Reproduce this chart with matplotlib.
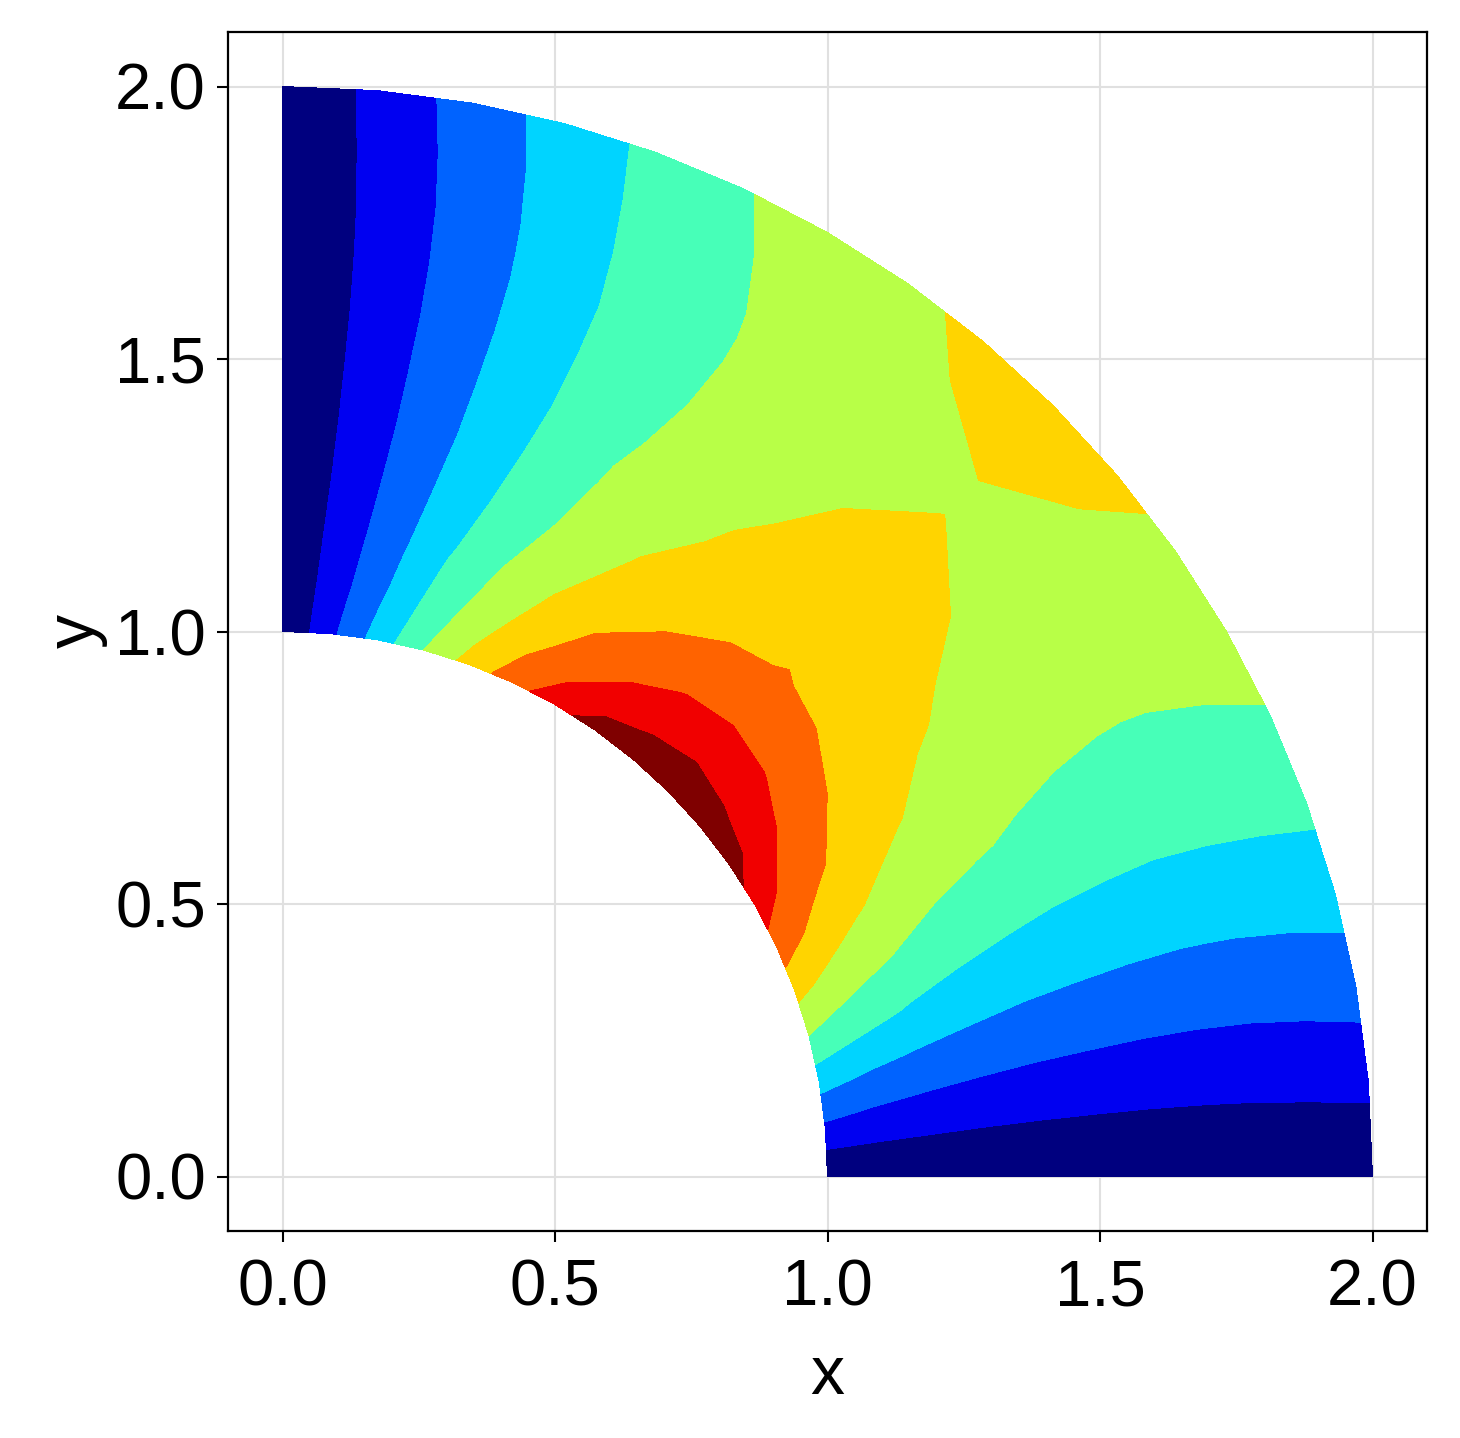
import numpy as np
import matplotlib
matplotlib.use("Agg")
import matplotlib.pyplot as plt

plt.rcParams['font.family'] = ['Liberation Sans', 'DejaVu Sans']

# Field sampled on a polar grid (annulus 1 <= r <= 2, 0..90 degrees), values in band units 0..10
radii = [1.0, 1.05, 1.1, 1.15, 1.2, 1.3, 1.4, 1.5, 1.6, 1.7, 1.75, 1.8, 1.9, 2.0]
angles_deg = [0, 5, 10, 15, 20, 25, 30, 35, 40, 45, 50, 55, 60, 65, 70, 75, 80, 85, 90]

row_r100 = [0, 1.754, 3.41, 5.0, 6.38, 7.61, 8.6, 9.5, 9.75, 10.0, 9.75, 9.5, 8.6, 7.61, 6.38, 5.0, 3.41, 1.754, 0]
row_r105 = [0, 1.61, 3.14, 4.64, 5.90, 7.05, 7.96, 8.68, 9.105, 9.3, 9.105, 8.68, 7.96, 7.05, 5.90, 4.64, 3.14, 1.61, 0]
row_r110 = [0, 1.49, 2.91, 4.35, 5.52, 6.57, 7.43, 8.07, 8.38, 8.68, 8.38, 8.07, 7.43, 6.57, 5.52, 4.35, 2.91, 1.49, 0]
row_r115 = [0, 1.41, 2.76, 4.10, 5.22, 6.17, 7.01, 7.60, 8.05, 8.16, 8.05, 7.60, 7.01, 6.17, 5.22, 4.10, 2.76, 1.41, 0]
row_r120 = [0, 1.34, 2.625, 3.875, 4.96, 5.86, 6.61, 7.14, 7.45, 7.75, 7.45, 7.14, 6.61, 5.86, 4.96, 3.875, 2.625, 1.34, 0]
row_r130 = [0, 1.235, 2.44, 3.57, 4.55, 5.36, 6.05, 6.46, 6.876, 7.04, 6.876, 6.46, 6.05, 5.36, 4.55, 3.57, 2.44, 1.235, 0]
row_r140 = [0, 1.174, 2.31, 3.36, 4.30, 5.08, 5.655, 6.128, 6.45, 6.77, 6.45, 6.128, 5.655, 5.08, 4.30, 3.36, 2.31, 1.174, 0]
row_r150 = [0, 1.139, 2.24, 3.25, 4.12, 4.87, 5.387, 5.858, 6.214, 6.52, 6.214, 5.858, 5.387, 4.87, 4.12, 3.25, 2.24, 1.139, 0]
row_r160 = [0, 1.12, 2.19, 3.175, 4.04, 4.73, 5.23, 5.615, 6.0, 6.28, 6.0, 5.615, 5.23, 4.73, 4.04, 3.175, 2.19, 1.12, 0]
row_r170 = [0, 1.124, 2.18, 3.145, 4.0, 4.667, 5.155, 5.466, 5.776, 6.04, 5.776, 5.466, 5.155, 4.667, 4.0, 3.145, 2.18, 1.124, 0]
row_r175 = [0, 1.136, 2.196, 3.158, 4.026, 4.684, 5.137, 5.40, 5.666, 5.93, 5.666, 5.40, 5.137, 4.684, 4.026, 3.158, 2.196, 1.136, 0]
row_r180 = [0, 1.15, 2.21, 3.18, 4.05, 4.71, 5.154, 5.43, 5.705, 5.99, 5.705, 5.43, 5.154, 4.71, 4.05, 3.18, 2.21, 1.15, 0]
row_r190 = [0, 1.21, 2.29, 3.27, 4.135, 4.81, 5.254, 5.606, 5.99, 6.15, 5.99, 5.606, 5.254, 4.81, 4.135, 3.27, 2.29, 1.21, 0]
row_r200 = [0, 1.286, 2.42, 3.40, 4.234, 4.943, 5.375, 5.85, 6.15, 6.3, 6.15, 5.85, 5.375, 4.943, 4.234, 3.40, 2.42, 1.286, 0]

field_rows = [row_r100, row_r105, row_r110, row_r115, row_r120, row_r130, row_r140,
              row_r150, row_r160, row_r170, row_r175, row_r180, row_r190, row_r200]

levels = [-0.01, 1, 2, 3, 4, 5, 6, 7, 8, 9, 10.01]
band_colors = ['#00007F', '#0000F1', '#0063FF', '#00D4FF', '#47FFB8',
               '#B8FF47', '#FFD400', '#FF6300', '#F10000', '#7F0000']

xticks = [0.0, 0.5, 1.0, 1.5, 2.0]
yticks = [0.0, 0.5, 1.0, 1.5, 2.0]
tick_labels = ['0.0', '0.5', '1.0', '1.5', '2.0']

fig = plt.figure(figsize=(14.6, 14.38), dpi=100)
ax = fig.add_axes([228 / 1460, (1438 - 1231) / 1438, (1427 - 228) / 1460, (1231 - 32) / 1438])

R, T = np.meshgrid(np.array(radii), np.deg2rad(angles_deg), indexing='ij')
X = R * np.cos(T)
Y = R * np.sin(T)
Z = np.array(field_rows)

# light grid underneath the filled contours
for v in xticks:
    ax.axvline(v, color='#e0e0e0', linewidth=1.5, zorder=0.2)
for v in yticks:
    ax.axhline(v, color='#e0e0e0', linewidth=1.5, zorder=0.2)

cs = ax.contourf(X, Y, Z, levels=levels, colors=band_colors, antialiased=False)
cs.set_zorder(3)

ax.set_xlim(-0.1, 2.1)
ax.set_ylim(-0.1, 2.1)
ax.set_xticks(xticks)
ax.set_xticklabels(tick_labels)
ax.set_yticks(yticks)
ax.set_yticklabels(tick_labels)
ax.grid(False)

for s in ax.spines.values():
    s.set_linewidth(1.6)
    s.set_zorder(5)

ax.tick_params(direction='out', length=8, width=1.5, labelsize=47, color='black')
ax.tick_params(axis='x', pad=12)
ax.tick_params(axis='y', pad=8)
ax.set_xlabel('x', fontsize=49, labelpad=18)
ax.set_ylabel('y', fontsize=49, labelpad=5)

fig.savefig('out.png', dpi=100, facecolor='white')
